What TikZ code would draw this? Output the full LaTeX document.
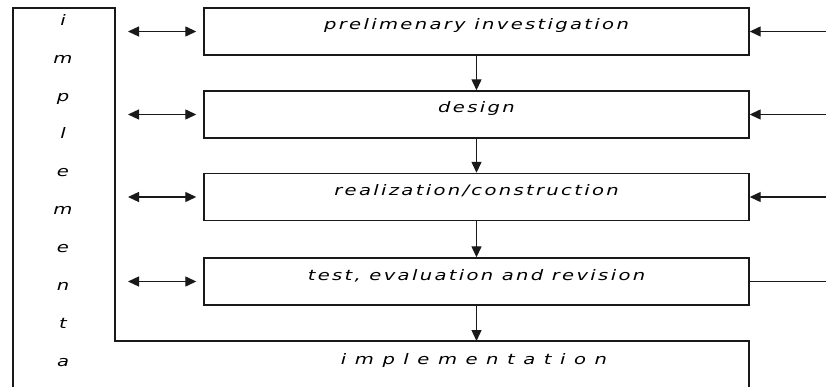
\documentclass[tikz,border=0pt]{standalone}
\usepackage{fontspec}
\newfontfamily\diafont[FakeStretch=1.35,LetterSpace=16]{DejaVu Sans}
\usetikzlibrary{
arrows.meta,
calc,
positioning
}
\tikzset{
frame_line/.style={draw=black!90, line width=1.4pt},
dia_font/.style={font=\diafont\itshape\fontsize{14.5}{16}\selectfont}
}

\begin{document}
\begin{tikzpicture}
[x=1pt, y=-1pt,
>={Triangle[length=11pt,width=10pt]},
block_normal/.style ={rectangle, draw=black!90, line width=1.4pt, fill=white, minimum width=545pt, minimum height=47pt, inner sep=0pt, text height=10pt, text depth=13pt, dia_font},
side_text/.style ={align=center, inner sep=0pt, font=\diafont\itshape\fontsize{14.5}{37.9}\selectfont},
impl_text/.style ={inner sep=0pt, dia_font},
line_inner/.style ={draw=black!90, line width=1.3pt, ->},
line_double/.style ={draw=black!90, line width=1.3pt, <->, shorten <=13pt, shorten >=7pt},
line_outer/.style ={draw=black!90, line width=1.3pt}
]
\useasboundingbox (0,0) rectangle (826,387);

%%%Frame%%%%
\coordinate (frame_tl) at (13,8);
\coordinate (frame_in) at (115,8);
\coordinate (frame_step) at (115,341);
\coordinate (frame_right) at (749,341);
\coordinate (edge) at (826,0);
\draw[frame_line] (13,390) -- (frame_tl) -- (frame_in) -- (frame_step) -- (frame_right) -- (749,390);

\node[side_text, anchor=north] (side) at (63,14) {i\\m\\p\\l\\e\\m\\e\\n\\t\\a};
\node[impl_text, anchor=base] (impl) at (474,364) {i m p l e m e n t a t i o n};

%%%Boxes%%%%
\node[block_normal] (b1) at (476.5,31.5) {prelimenary investigation};
\node[block_normal] (b2) at (476.5,114.5) {design};
\node[block_normal] (b3) at (476.5,197) {realization/construction};
\node[block_normal] (b4) at (476.5,281.5) {test, evaluation and revision};

%%Arrows%%%
\draw[line_inner] (b1.south) -- (b2.north);
\draw[line_inner] (b2.south) -- (b3.north);
\draw[line_inner] (b3.south) -- (b4.north);
\draw[line_inner] (b4.south) -- (b4.south |- frame_step);

\draw[line_double] (b1.west -| frame_in) -- (b1.west);
\draw[line_double] (b2.west -| frame_in) -- (b2.west);
\draw[line_double] (b3.west -| frame_in) -- (b3.west);
\draw[line_double] (b4.west -| frame_in) -- (b4.west);

\draw[line_inner] (b1.east -| edge) -- (b1.east);
\draw[line_inner] (b2.east -| edge) -- (b2.east);
\draw[line_inner] (b3.east -| edge) -- (b3.east);
\draw[line_outer] (b4.east -| edge) -- (b4.east);

\end{tikzpicture}
\end{document}
